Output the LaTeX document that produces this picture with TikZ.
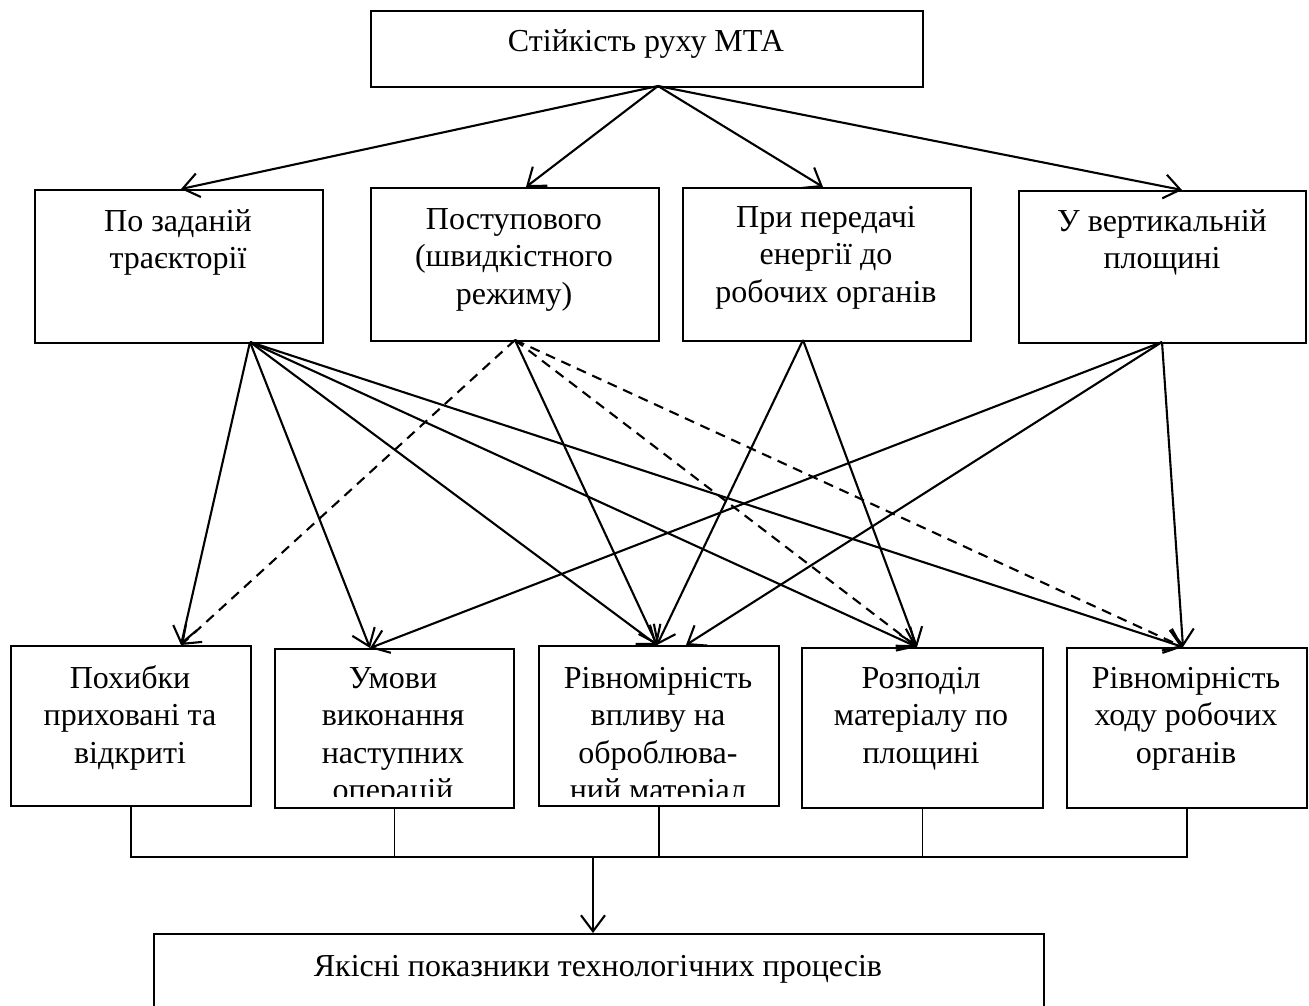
\documentclass[tikz,border=0pt]{standalone}
\usepackage{fontspec}
\setmainfont{Liberation Serif}
\usetikzlibrary{arrows.meta}
\begin{document}
\begin{tikzpicture}[x=1pt,y=-1pt,
  boxn/.style={draw, line width=1.8pt, inner sep=0pt, anchor=north west},
  txt/.style={align=center, inner sep=0pt, anchor=north, font=\fontsize{32}{37.5}\selectfont},
  conn/.style={line width=2.1pt, -{Straight Barb[length=16pt,width=24pt,line width=2.1pt]}},
  dconn/.style={conn, dash pattern=on 10pt off 7pt},
  busline/.style={line width=1.8pt}]
\useasboundingbox (0,0) rectangle (1309,1005);
\fill[white] (0,0) rectangle (1309,1005);
% boxes
\node[boxn, minimum width=552pt, minimum height=76pt] (t) at (370,10) {};
\node[boxn, minimum width=288pt, minimum height=153pt] (b1) at (34,189) {};
\node[boxn, minimum width=288pt, minimum height=153pt] (b2) at (370,187) {};
\node[boxn, minimum width=288pt, minimum height=153pt] (b3) at (682,187) {};
\node[boxn, minimum width=287pt, minimum height=152pt] (b4) at (1018,190) {};
\node[boxn, minimum width=240pt, minimum height=160pt] (c5) at (10,645) {};
\node[boxn, minimum width=239pt, minimum height=159pt] (c6) at (274,648) {};
\node[boxn, minimum width=240pt, minimum height=160pt] (c7) at (538,645) {};
\node[boxn, minimum width=241pt, minimum height=160pt] (c8) at (801,647) {};
\node[boxn, minimum width=240pt, minimum height=160pt] (c9) at (1066,647) {};
\node[boxn, minimum width=890pt, minimum height=90pt] (q) at (153,933) {};
% texts
\node[txt] (tt) at (646,25) {\strut Стійкість руху МТА};
\node[txt] (b1t) at (178,205) {\strut По заданій\\траєкторії};
\node[txt] (b2t) at (514,203) {\strut Поступового\\(швидкістного\\режиму)};
\node[txt] (b3t) at (826,201) {\strut При передачі\\енергії до\\робочих органів};
\node[txt] (b4t) at (1162,205) {\strut У вертикальній\\площині};
\node[txt] (c5t) at (130,662) {\strut Похибки\\приховані та\\відкриті};
\begin{scope}
\clip (274,648) rectangle (513,796);
\node[txt] (c6t) at (393,662) {\strut Умови\\виконання\\наступних\\операцій};
\end{scope}
\begin{scope}
\clip (538,645) rectangle (778,796);
\node[txt] (c7t) at (658,662) {\strut Рівномірність\\впливу на\\оброблюва-\\ний матеріал};
\end{scope}
\node[txt] (c8t) at (921,662) {\strut Розподіл\\матеріалу по\\площині};
\node[txt] (c9t) at (1186,662) {\strut Рівномірність\\ходу робочих\\органів};
\node[txt] (qt) at (598,950) {\strut Якісні показники технологічних процесів};
% connector points
\coordinate (tap) at (658,86);
\coordinate (a1) at (181,189);
\coordinate (a2) at (526,187);
\coordinate (a3) at (823,187);
\coordinate (a4) at (1182,190);
\coordinate (o1) at (250,342);
\coordinate (o2) at (515,340);
\coordinate (o3) at (803,340);
\coordinate (o4) at (1162,342);
\coordinate (t5) at (181,645);
\coordinate (t6) at (370,648);
\coordinate (t7) at (657,645);
\coordinate (t7b) at (686,645);
\coordinate (t8) at (917,647);
\coordinate (t9) at (1183,647);
% top arrows
\draw[conn] (tap) -- (a1);
\draw[conn] (tap) -- (a2);
\draw[conn] (tap) -- (a3);
\draw[conn] (tap) -- (a4);
% from b1
\draw[conn] (o1) -- (t5);
\draw[conn] (o1) -- (t6);
\draw[conn] (o1) -- (t7);
\draw[conn] (o1) -- (t8);
\draw[conn] (o1) -- (t9);
% from b2
\draw[dconn] (o2) -- (t5);
\draw[conn] (o2) -- (t7);
\draw[dconn] (o2) -- (t8);
\draw[dconn] (o2) -- (t9);
% from b3
\draw[conn] (o3) -- (t7);
\draw[conn] (o3) -- (t8);
% from b4
\draw[conn] (o4) -- (t6);
\draw[conn] (o4) -- (t7b);
\draw[conn] (o4) -- (t9);
% bus
\coordinate (busy) at (0,857);
\draw[busline] (c5.south) -- (c5.south |- busy) -- (c9.south |- busy) -- (c9.south);
\draw[busline] (c6.south) -- (c6.south |- busy);
\draw[busline] (c7.south) -- (c7.south |- busy);
\draw[busline] (c8.south) -- (c8.south |- busy);
\coordinate (bo) at (593,857);
\draw[conn] (bo) -- (bo |- q.north);
\end{tikzpicture}
\end{document}
